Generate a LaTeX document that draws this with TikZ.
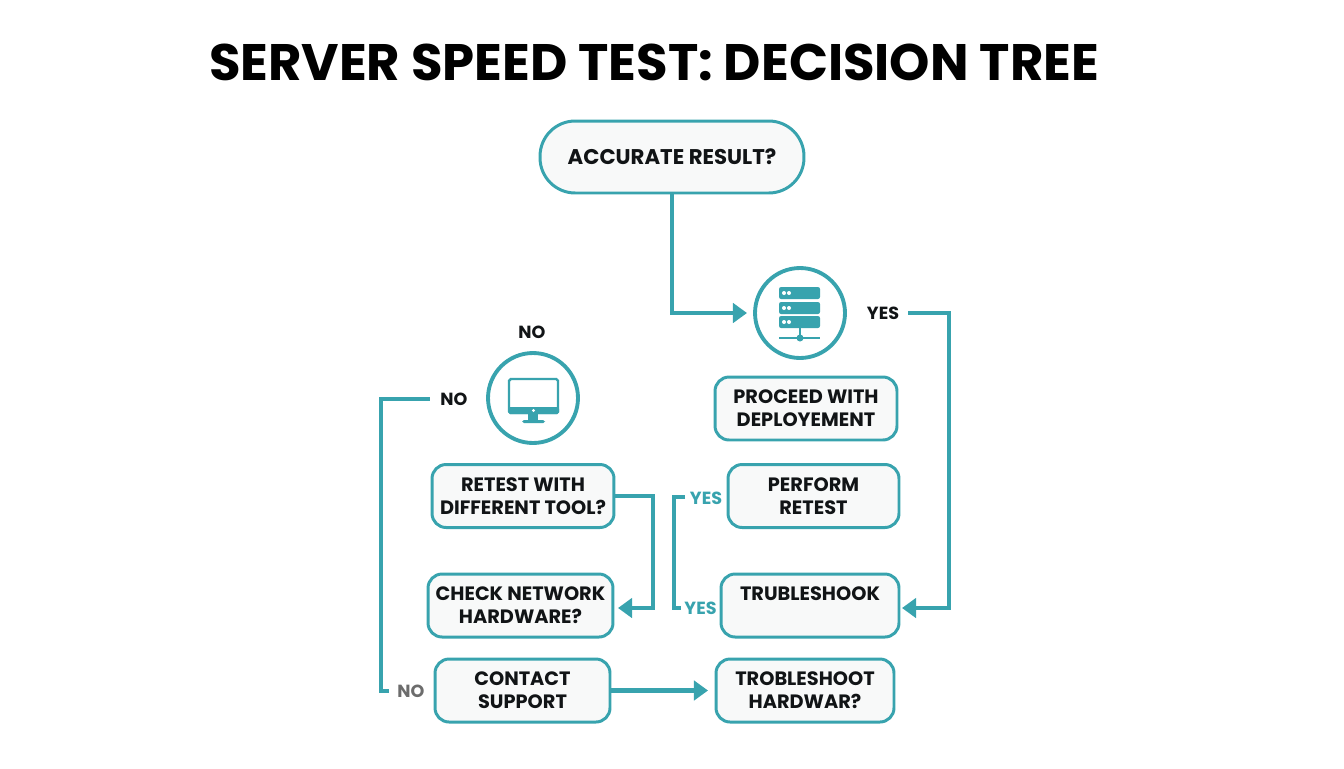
\documentclass[tikz,border=0pt]{standalone}
\usepackage{fontspec}
\setmainfont{Poppins}
\usetikzlibrary{arrows.meta}
\definecolor{tealline}{HTML}{38A3AE}
\definecolor{boxfill}{HTML}{F8F9F9}
\definecolor{inktext}{HTML}{111416}
\tikzset{
    flowbox/.style={draw=tealline, fill=boxfill, line width=1.7pt, rounded corners=8pt, align=center, inner sep=0pt, minimum height=1.26cm, text=inktext, font=\fontsize{11}{13}\selectfont\bfseries},
    iconring/.style={draw=tealline, line width=2.2pt, circle, fill=white, inner sep=0pt, minimum size=1.8cm},
    answer/.style={inner sep=5pt, text=inktext, font=\fontsize{10}{12}\selectfont\bfseries},
    link/.style={draw=tealline, line width=2.3pt},
    linkarrow/.style={link, -{Triangle[length=8pt,width=11pt]}},
}
\begin{document}
\begin{tikzpicture}[x=0.02cm,y=-0.02cm]
    \useasboundingbox (0,0) rectangle (1344,768);

    % Title
    \node[text=black, font=\fontsize{29.2}{32}\selectfont\bfseries] (title) at (654,62) {SERVER SPEED TEST: DECISION TREE};

    % Question at the top
    \node[flowbox, rounded corners=20pt, minimum width=5.28cm, minimum height=1.44cm, font=\fontsize{12.1}{14}\selectfont\bfseries] (accurate) at (672,157) {ACCURATE RESULT?};

    % Icons
    \node[iconring] (server) at (800,313) {};
    \node[iconring] (monitor) at (533,398) {};

    % Right column
    \node[flowbox, minimum width=3.64cm] (proceed) at (806,408.5) {PROCEED WITH\\DEPLOYEMENT};
    \node[flowbox, minimum width=3.42cm] (perform) at (813.5,496) {PERFORM\\RETEST};
    \node[flowbox, minimum width=3.56cm] (truble) at (810,605.5) {TRUBLESHOOK\\~};
    \node[flowbox, minimum width=3.56cm] (hardwar) at (805,690.5) {TROBLESHOOT\\HARDWAR?};

    % Left column
    \node[flowbox, minimum width=3.64cm] (retest) at (523,496) {RETEST WITH\\DIFFERENT TOOL?};
    \node[flowbox, minimum width=3.7cm] (check) at (520.5,605.5) {CHECK NETWORK\\HARDWARE?};
    \node[flowbox, minimum width=3.5cm] (contact) at (522.5,690.5) {CONTACT\\SUPPORT};

    % Answers
    \node[answer] (yesserver) at (883,313) {YES};
    \node[answer] (nomonitor) at (532,332) {NO};
    \node[answer, inner sep=6pt] (noleft) at (454,399) {NO};
    \node[answer, text=gray!85!black] (nocontact) at (411,691) {NO};
    \node[answer, text=tealline] (yesperform) at (706,498) {YES};
    \node[answer, text=tealline] (yestruble) at (700.5,608) {YES};

    % Corners and free ends
    \coordinate (servertip) at (747,313);
    \coordinate (rightrun) at (949,313);
    \coordinate (trubletip) at (902,608);
    \coordinate (leftrun) at (381,399);
    \coordinate (leftfoot) at (389,691);
    \coordinate (middlerun) at (653,496);
    \coordinate (checktip) at (618,608);
    \coordinate (bracketa) at (685,497);
    \coordinate (bracketb) at (674,497);
    \coordinate (bracketc) at (674,608);
    \coordinate (bracketd) at (681,608);
    \coordinate (hardwartip) at (708,690.5);

    % Connectors
    \draw[linkarrow] (accurate.south) |- (servertip);
    \draw[linkarrow] (yesserver.east) -- (rightrun) |- (trubletip);
    \draw[link] (noleft.west) -- (leftrun) |- (leftfoot);
    \draw[linkarrow] (retest.east) -- (middlerun) |- (checktip);
    \draw[link] (bracketa) -- (bracketb) -- (bracketc) -- (bracketd);
    \draw[linkarrow] (contact.east) -- (hardwartip);

    % Server icon
    \foreach \y in {293,308,322}{
        \fill[tealline, rounded corners=1.2pt] (779,\y-6) rectangle (820,\y+6);
        \fill[white] (784,\y) circle (2);
        \fill[white] (789,\y) circle (2);
    }
    \draw[tealline, line width=1.2pt] (800,328) -- (800,338);
    \draw[tealline, line width=1.2pt] (779,338) -- (820,338);
    \fill[tealline] (800,338) circle (3.5);

    % Monitor icon
    \draw[tealline, line width=1.4pt, rounded corners=1pt] (509,379) rectangle (558,413);
    \fill[tealline, rounded corners=1pt] (508,407) rectangle (559,414);
    \fill[white] (533.5,410.5) circle (1.6);
    \fill[tealline] (528,414) rectangle (538,421);
    \fill[tealline, rounded corners=1pt] (522,420) rectangle (545,423);
\end{tikzpicture}
\end{document}
